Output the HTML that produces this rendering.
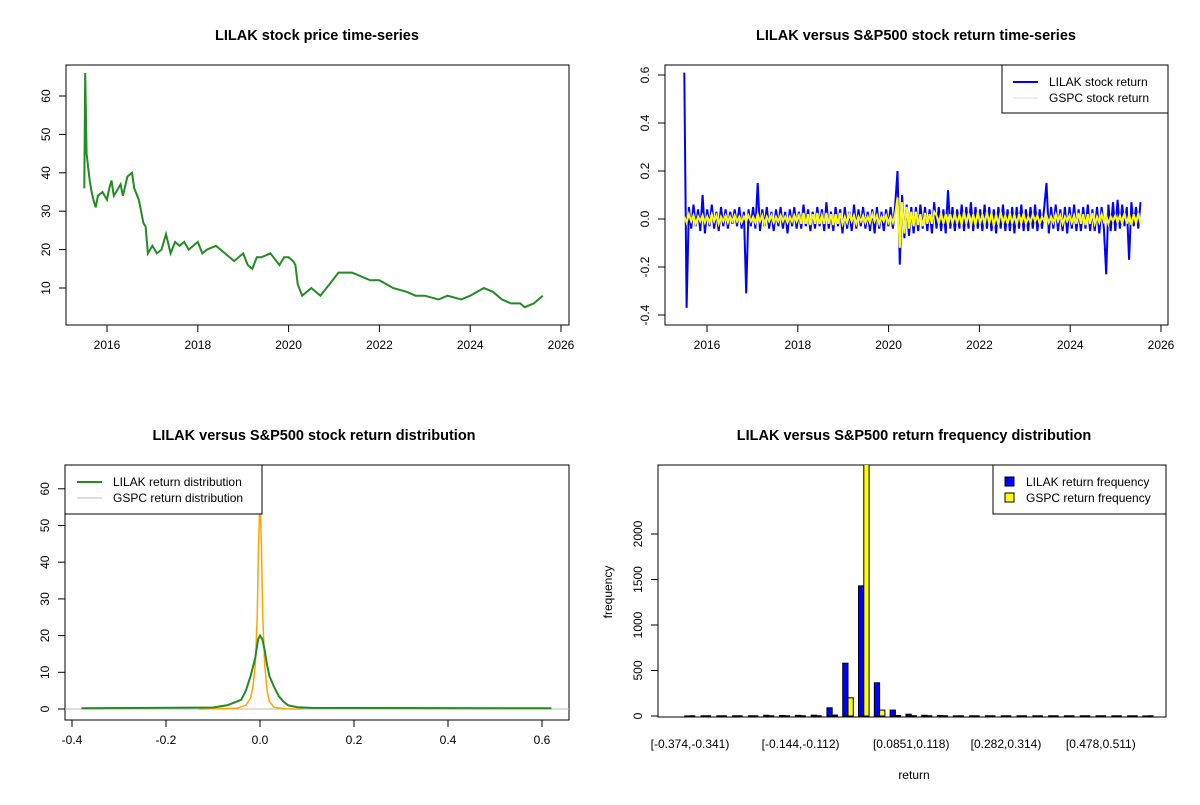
<!DOCTYPE html>
<html><head><meta charset="utf-8"><style>
body{margin:0;background:#fff}
svg{font-family:"Liberation Sans",Arial,sans-serif}
.t{font-weight:bold;font-size:14.5px;text-anchor:middle}
</style></head><body>
<svg id="s" width="1200" height="800" viewBox="0 0 1200 800">
<rect width="1200" height="800" fill="#fff"/>
<text class="t" x="317" y="40">LILAK stock price time-series</text>
<text class="t" x="916" y="40">LILAK versus S&amp;P500 stock return time-series</text>
<text class="t" x="314" y="440">LILAK versus S&amp;P500 stock return distribution</text>
<text class="t" x="914" y="440">LILAK versus S&amp;P500 return frequency distribution</text>
<defs><clipPath id="c2"><rect x="665" y="65" width="503" height="260"/></clipPath><clipPath id="c4"><rect x="658" y="465" width="508" height="252"/></clipPath></defs>
<g id="g"></g>
</svg>
<script>
const priceYears=[2015.5,2015.52,2015.55,2015.58,2015.62,2015.66,2015.7,2015.75,2015.8,2015.9,2016.0,2016.05,2016.1,2016.15,2016.2,2016.3,2016.35,2016.45,2016.55,2016.6,2016.7,2016.75,2016.8,2016.85,2016.9,2017.0,2017.1,2017.2,2017.3,2017.4,2017.5,2017.6,2017.7,2017.8,2018.0,2018.1,2018.2,2018.4,2018.6,2018.8,2019.0,2019.1,2019.2,2019.3,2019.4,2019.6,2019.8,2019.9,2020.0,2020.1,2020.15,2020.2,2020.3,2020.5,2020.7,2020.9,2021.1,2021.4,2021.6,2021.8,2022.0,2022.3,2022.6,2022.8,2023.0,2023.3,2023.5,2023.8,2024.0,2024.3,2024.5,2024.7,2024.9,2025.1,2025.2,2025.4,2025.6];
const priceVals=[36,66,45,42,38,35,33,31,34,35,33,36,38,34,35,37,34,39,40,36,33,30,27,26,19,21,19,20,24,19,22,21,22,20,22,19,20,21,19,17,19,16,15,18,18,19,16,18,18,17,16,11,8,10,8,11,14,14,13,12,12,10,9,8,8,7,8,7,8,10,9,7,6,6,5,6,8];
const retStart=2015.5, retStep=0.0505;
const lilakRet=[0.61,-0.37,0.05,-0.04,0.06,-0.03,0.04,-0.05,0.1,-0.06,
0.04,-0.03,0.06,-0.04,0.03,-0.05,0.05,-0.03,0.04,-0.04,
0.03,-0.02,0.04,-0.03,0.05,-0.04,0.03,-0.31,0.04,-0.03,
0.05,-0.04,0.15,-0.05,0.04,-0.03,0.05,-0.04,0.03,-0.05,
0.04,-0.03,0.05,-0.04,0.03,-0.06,0.04,-0.03,0.05,-0.04,
0.03,-0.04,0.06,-0.03,0.04,-0.05,0.03,-0.04,0.05,-0.03,
0.04,-0.05,0.07,-0.04,0.03,-0.05,0.05,-0.03,0.04,-0.06,
0.05,-0.04,0.03,-0.05,0.06,-0.04,0.04,-0.03,0.05,-0.04,
0.03,-0.05,0.04,-0.06,0.05,-0.04,0.03,-0.05,0.04,-0.03,
0.05,-0.04,0.06,0.2,-0.19,0.1,-0.08,0.06,-0.07,0.05,
-0.06,0.05,-0.05,0.06,-0.04,0.05,-0.05,0.04,-0.06,0.07,
-0.04,0.05,-0.05,0.04,-0.06,0.12,-0.04,0.05,-0.05,0.04,
-0.04,0.06,-0.05,0.05,-0.04,0.07,-0.05,0.05,-0.04,0.04,
-0.05,0.06,-0.04,0.05,-0.05,0.04,-0.06,0.05,-0.04,0.06,
-0.05,0.04,-0.05,0.05,-0.06,0.05,-0.04,0.06,-0.05,0.04,
-0.05,0.05,-0.04,0.06,-0.05,0.04,-0.04,0.05,0.15,-0.06,
0.05,-0.04,0.06,-0.05,0.04,-0.05,0.05,-0.06,0.05,-0.04,
0.06,-0.05,0.04,-0.05,0.05,-0.04,0.06,-0.05,0.04,-0.05,
0.05,-0.06,0.05,-0.04,-0.23,0.06,-0.05,0.07,-0.05,0.08,
-0.04,0.06,-0.03,0.05,-0.17,0.07,-0.03,0.05,-0.04,0.07];
const gspcRet=[0.01,-0.015,0.02,-0.01,0.015,-0.02,0.01,-0.01,0.015,-0.015,
0.01,-0.015,0.02,-0.01,0.015,-0.02,0.01,-0.01,0.015,-0.015,
0.01,-0.01,0.015,-0.01,0.01,-0.015,0.01,-0.01,0.015,-0.01,
0.01,-0.015,0.02,-0.01,0.015,-0.02,0.01,-0.01,0.015,-0.015,
0.01,-0.01,0.015,-0.01,0.01,-0.015,0.01,-0.01,0.015,-0.01,
0.015,-0.02,0.025,-0.02,0.02,-0.025,0.02,-0.02,0.025,-0.02,
0.015,-0.02,0.025,-0.02,0.02,-0.025,0.02,-0.02,0.025,-0.02,
0.01,-0.015,0.02,-0.01,0.015,-0.02,0.01,-0.01,0.015,-0.015,
0.01,-0.015,0.02,-0.01,0.015,-0.02,0.01,-0.01,0.015,-0.015,
0.01,-0.015,0.02,0.09,-0.12,0.07,-0.06,0.05,-0.04,0.03,
-0.03,0.03,-0.025,0.02,-0.03,0.025,-0.02,0.02,-0.02,0.03,
0.015,-0.02,0.025,-0.02,0.02,-0.025,0.02,-0.02,0.025,-0.02,
0.02,-0.025,0.03,-0.02,0.025,-0.03,0.02,-0.025,0.03,-0.02,
0.02,-0.025,0.03,-0.02,0.025,-0.03,0.02,-0.025,0.03,-0.02,
0.015,-0.02,0.025,-0.02,0.02,-0.025,0.02,-0.02,0.025,-0.02,
0.01,-0.015,0.02,-0.01,0.015,-0.02,0.01,-0.01,0.015,-0.015,
0.01,-0.015,0.02,-0.01,0.015,-0.02,0.01,-0.01,0.015,-0.015,
0.015,-0.02,0.025,-0.02,0.02,-0.025,0.02,-0.02,0.025,-0.02,
0.01,-0.015,0.02,-0.01,0.015,-0.02,0.01,-0.01,0.015,-0.015,
0.015,-0.02,0.025,-0.02,0.02,-0.025,0.02,-0.02,0.025,-0.02];
const lilakDensX=[-0.38,-0.1,-0.07,-0.05,-0.04,-0.03,-0.02,-0.01,-0.004,0,0.005,0.01,0.015,0.02,0.03,0.04,0.05,0.06,0.08,0.11,0.62];
const lilakDensY=[0.2,0.4,1,2,2.5,5,9,14,19,20,19,16,12,9,6,3.5,2,1,0.5,0.3,0.2];
const gspcDensX=[-0.13,-0.05,-0.03,-0.02,-0.015,-0.01,-0.006,-0.003,0,0.003,0.006,0.01,0.015,0.02,0.03,0.05,0.07,0.09];
const gspcDensY=[0,0.2,1,3,6,12,25,45,58,45,25,12,5,2,0.5,0.1,0,0];
const binLabels=["[-0.374,-0.341)","[-0.144,-0.112)","[0.0851,0.118)","[0.282,0.314)","[0.478,0.511)"];
const binLabelIdx=[0,7,14,20,26];
const lilakFreq=[1,0,0,0,0,8,6,7,9,90,580,1430,365,65,20,8,6,2,0,0,0,0,0,0,0,0,0,0,0,1];
const gspcFreq=[0,0,0,0,0,0,0,0,0,10,200,2800,65,5,3,0,0,0,0,0,0,0,0,0,0,0,0,0,0,0];

const NS="http://www.w3.org/2000/svg", G=document.getElementById('g');
function mk(t,a,p){const e=document.createElementNS(NS,t);for(const k in a)e.setAttribute(k,a[k]);(p||G).appendChild(e);return e;}
function txt(x,y,s,a,rot){const e=mk('text',{x:x,y:y,'font-size':12,'text-anchor':a||'middle'});if(rot)e.setAttribute('transform','rotate(-90 '+x+' '+y+')');e.textContent=s;return e;}
function box(x0,y0,x1,y1,nm){const e=mk('rect',{x:x0,y:y0,width:x1-x0,height:y1-y0,fill:'none',stroke:'#000'});

}
function xtick(x,yb,s){mk('line',{x1:x,x2:x,y1:yb,y2:yb+7,stroke:'#000'});txt(x,yb+24,s);}
function ytick(y,xl,s){mk('line',{x1:xl-7,x2:xl,y1:y,y2:y,stroke:'#000'});txt(xl-16,y,s,'middle',true);}
function poly(pts,col,w,nm,clip){const e=mk('polyline',{points:pts.join(' '),fill:'none',stroke:col,'stroke-width':w});
if(clip)e.setAttribute('clip-path','url(#'+clip+')');

}

// Panel 1: price
{const X=v=>107+(v-2016)*45.4, Y=v=>288-(v-10)*3.84;
box(66,65,569,325,'price-plot-area');
mk('line',{x1:X(2016),x2:X(2026),y1:325,y2:325,stroke:'#000'});
[2016,2018,2020,2022,2024,2026].forEach(v=>xtick(X(v),325,String(v)));
mk('line',{x1:66,x2:66,y1:Y(10),y2:Y(60),stroke:'#000'});
[10,20,30,40,50,60].forEach(v=>ytick(Y(v),66,String(v)));
poly(priceYears.map((y,i)=>X(y).toFixed(1)+','+Y(priceVals[i]).toFixed(1)),'#228B22',2,'price-line');}

// Panel 2: returns
{const X=v=>707+(v-2016)*45.4, Y=v=>219-v*240;
box(665,65,1168,325,'return-plot-area');
mk('line',{x1:X(2016),x2:X(2026),y1:325,y2:325,stroke:'#000'});
[2016,2018,2020,2022,2024,2026].forEach(v=>xtick(X(v),325,String(v)));
mk('line',{x1:665,x2:665,y1:Y(-0.4),y2:Y(0.6),stroke:'#000'});
[-0.4,-0.2,0,0.2,0.4,0.6].forEach(v=>ytick(Y(v),665,v.toFixed(1)));
poly(lilakRet.map((r,i)=>X(retStart+i*retStep).toFixed(1)+','+Y(r).toFixed(1)),'#0000ff',2,'lilak-return-line','c2');
poly(gspcRet.map((r,i)=>X(retStart+i*retStep).toFixed(1)+','+Y(r).toFixed(1)),'#ffff00',2,'gspc-return-line','c2');
const lg=mk('g',{});


mk('rect',{x:1002,y:65,width:166,height:48,fill:'#fff',stroke:'#000'},lg);
mk('line',{x1:1013,x2:1038,y1:82,y2:82,stroke:'#0000ff','stroke-width':2},lg);
mk('line',{x1:1013,x2:1038,y1:98,y2:98,stroke:'#dddddd','stroke-width':1},lg);
txt(1049,86,'LILAK stock return','start');txt(1049,102,'GSPC stock return','start');}

// Panel 3: density
{const X=v=>260+v*470, Y=v=>709-v*3.67;
box(65,465,569,720,'density-plot-area');
[-0.4,-0.2,0,0.2,0.4,0.6].forEach(v=>xtick(X(v),720,v.toFixed(1)));
mk('line',{x1:X(-0.4),x2:X(0.6),y1:720,y2:720,stroke:'#000'});
mk('line',{x1:65,x2:65,y1:Y(0),y2:Y(60),stroke:'#000'});
[0,10,20,30,40,50,60].forEach(v=>ytick(Y(v),65,String(v)));
mk('line',{x1:65,x2:569,y1:Y(0),y2:Y(0),stroke:'#bbb'});
poly(gspcDensX.map((x,i)=>X(x).toFixed(1)+','+Y(gspcDensY[i]).toFixed(1)),'#FFA500',1.5,'gspc-density-line');
poly(lilakDensX.map((x,i)=>X(x).toFixed(1)+','+Y(lilakDensY[i]).toFixed(1)),'#228B22',2,'lilak-density-line');
const lg=mk('g',{});


mk('rect',{x:65,y:465,width:197,height:49,fill:'#fff',stroke:'#000'},lg);
mk('line',{x1:77,x2:102,y1:482,y2:482,stroke:'#228B22','stroke-width':2},lg);
mk('line',{x1:77,x2:102,y1:498,y2:498,stroke:'#bbbbbb','stroke-width':1},lg);
txt(113,486,'LILAK return distribution','start');txt(113,502,'GSPC return distribution','start');}

// Panel 4: histogram
{const C=i=>690+i*15.8, W=5.27, Y=v=>716-v*0.091;
box(658,465,1166,717,'histogram-plot-area');
mk('line',{x1:658,x2:658,y1:Y(0),y2:Y(2000),stroke:'#000'});
[0,500,1000,1500,2000].forEach(v=>ytick(Y(v),658,String(v)));
binLabelIdx.forEach((b,k)=>txt(C(b),748,binLabels[k]));
txt(612,592,'frequency','middle',true);
txt(914,779,'return');
function bar(x,f,col,nm){let e;
if(f===0){e=mk('line',{x1:x,x2:x+W,y1:Y(0),y2:Y(0),stroke:'#000','stroke-width':1.5});}
else{e=mk('rect',{x:x,y:Y(f),width:W,height:Y(0)-Y(f),fill:col,stroke:'#000','stroke-width':1,'clip-path':'url(#c4)'});}

}
lilakFreq.forEach((f,i)=>bar(C(i)-W,f,'#0000ff','lilak-bar'));
gspcFreq.forEach((f,i)=>bar(C(i),f,'#ffff00','gspc-bar'));
const lg=mk('g',{});


mk('rect',{x:993,y:465,width:173,height:49,fill:'#fff',stroke:'#000'},lg);
mk('rect',{x:1005,y:477,width:9,height:9,fill:'#0000ff',stroke:'#000'},lg);
mk('rect',{x:1005,y:493,width:9,height:9,fill:'#ffff00',stroke:'#000'},lg);
txt(1026,486,'LILAK return frequency','start');txt(1026,502,'GSPC return frequency','start');}
</script>
</body></html>
